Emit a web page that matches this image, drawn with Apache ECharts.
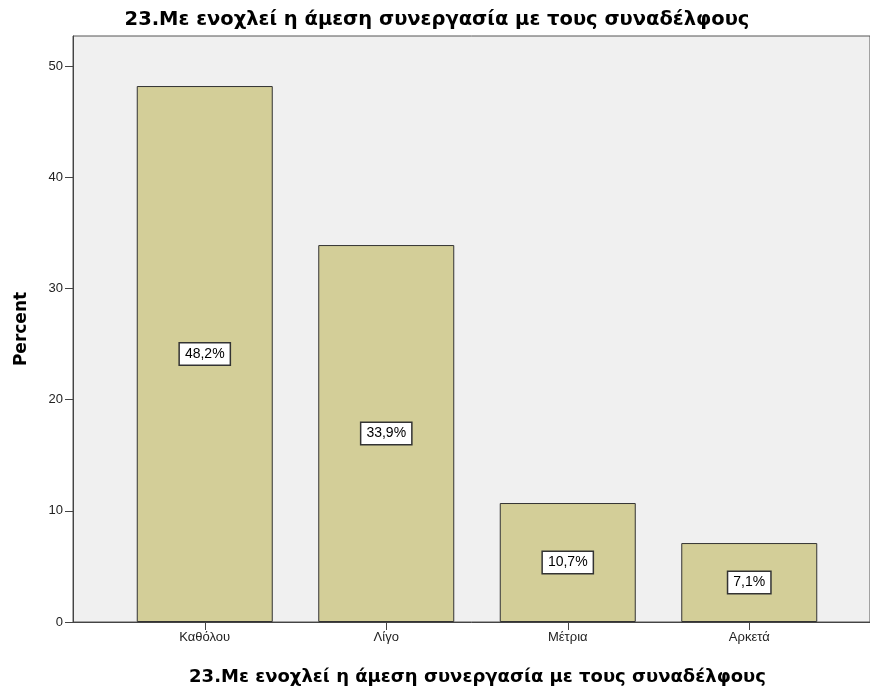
<!DOCTYPE html>
<html>
<head>
<meta charset="utf-8">
<script src="https://cdn.jsdelivr.net/npm/echarts@6/dist/echarts.min.js"></script>
<style>
  html, body { margin: 0; padding: 0; background: #ffffff; }
  #chart { width: 870px; height: 690px; }
</style>
</head>
<body>
<div id="chart"></div>
<script>
// Response categories and their percentages
const categories = ['Καθόλου', 'Λίγο', 'Μέτρια', 'Αρκετά'];
const percents = [48.2, 33.9, 10.7, 7.1];
const yTicks = [0, 10, 20, 30, 40, 50];

const titleText = '23.Με ενοχλεί η άμεση συνεργασία με τους συναδέλφους';
const fontFamily = 'Arial, "Liberation Sans", sans-serif';
const headFont = '"DejaVu Sans", Arial, sans-serif';

const Y_MAX = 52.7;
const PLOT_TOP = 36;
const PLOT_BOTTOM = 68;

const chart = echarts.init(document.getElementById('chart'), null, { renderer: 'canvas' });

chart.setOption({
  animation: false,
  backgroundColor: '#ffffff',
  title: {
    text: titleText,
    left: 432, textAlign: 'center',
    top: 5,
    textStyle: { fontFamily: headFont, fontSize: 19.5, fontWeight: 'bold', color: '#000' }
  },
  grid: [
    // frame with the value axis and full-width baseline
    {
      left: 73, right: 0, top: PLOT_TOP, bottom: PLOT_BOTTOM,
      outerBoundsMode: 'none', containLabel: false,
      show: true, backgroundColor: '#f0f0f0', borderColor: '#555', borderWidth: 1
    },
    // band area holding the bars
    {
      left: 114, width: 726, top: PLOT_TOP, bottom: PLOT_BOTTOM,
      outerBoundsMode: 'none', containLabel: false
    }
  ],
  xAxis: [
    {
      gridIndex: 0, type: 'value', min: 0, max: 1,
      axisLine: { show: true, lineStyle: { color: '#444', width: 1 } },
      axisTick: { show: false }, axisLabel: { show: false }, splitLine: { show: false },
      name: titleText, nameLocation: 'middle', nameGap: 46,
      nameTextStyle: { fontFamily: headFont, fontSize: 18, fontWeight: 'bold', color: '#000', padding: [0, 0, 0, 12] }
    },
    {
      gridIndex: 1, type: 'category', data: categories,
      axisLine: { show: false },
      axisTick: { show: true, alignWithLabel: true, length: 8, lineStyle: { color: '#444' } },
      axisLabel: { fontFamily, fontSize: 13, color: '#222', margin: 9 }
    }
  ],
  yAxis: [
    {
      gridIndex: 0, type: 'value', min: 0, max: Y_MAX, interval: 10,
      axisLine: { show: true, lineStyle: { color: '#444', width: 1 } },
      axisTick: { show: true, length: 8, lineStyle: { color: '#444' },
        customValues: yTicks },
      axisLabel: { fontFamily, fontSize: 13, color: '#222', margin: 10,
        customValues: yTicks },
      splitLine: { show: false },
      name: 'Percent', nameLocation: 'middle', nameGap: 43, nameRotate: 90,
      nameTextStyle: { fontFamily: headFont, fontSize: 17, fontWeight: 'bold', color: '#000' }
    },
    {
      gridIndex: 1, type: 'value', min: 0, max: Y_MAX, show: false
    }
  ],
  series: [
    {
      type: 'bar',
      xAxisIndex: 1, yAxisIndex: 1,
      data: percents,
      barWidth: 136,
      itemStyle: { color: '#d3ce98', borderColor: '#333', borderWidth: 1 },
      label: {
        show: true,
        position: 'inside',
        formatter: p => String(p.value).replace('.', ',') + '%',
        fontFamily, fontSize: 14, color: '#000',
        backgroundColor: '#ffffff',
        borderColor: '#333', borderWidth: 1.5,
        padding: [4, 5, 3, 5]
      }
    }
  ]
});
</script>
</body>
</html>
